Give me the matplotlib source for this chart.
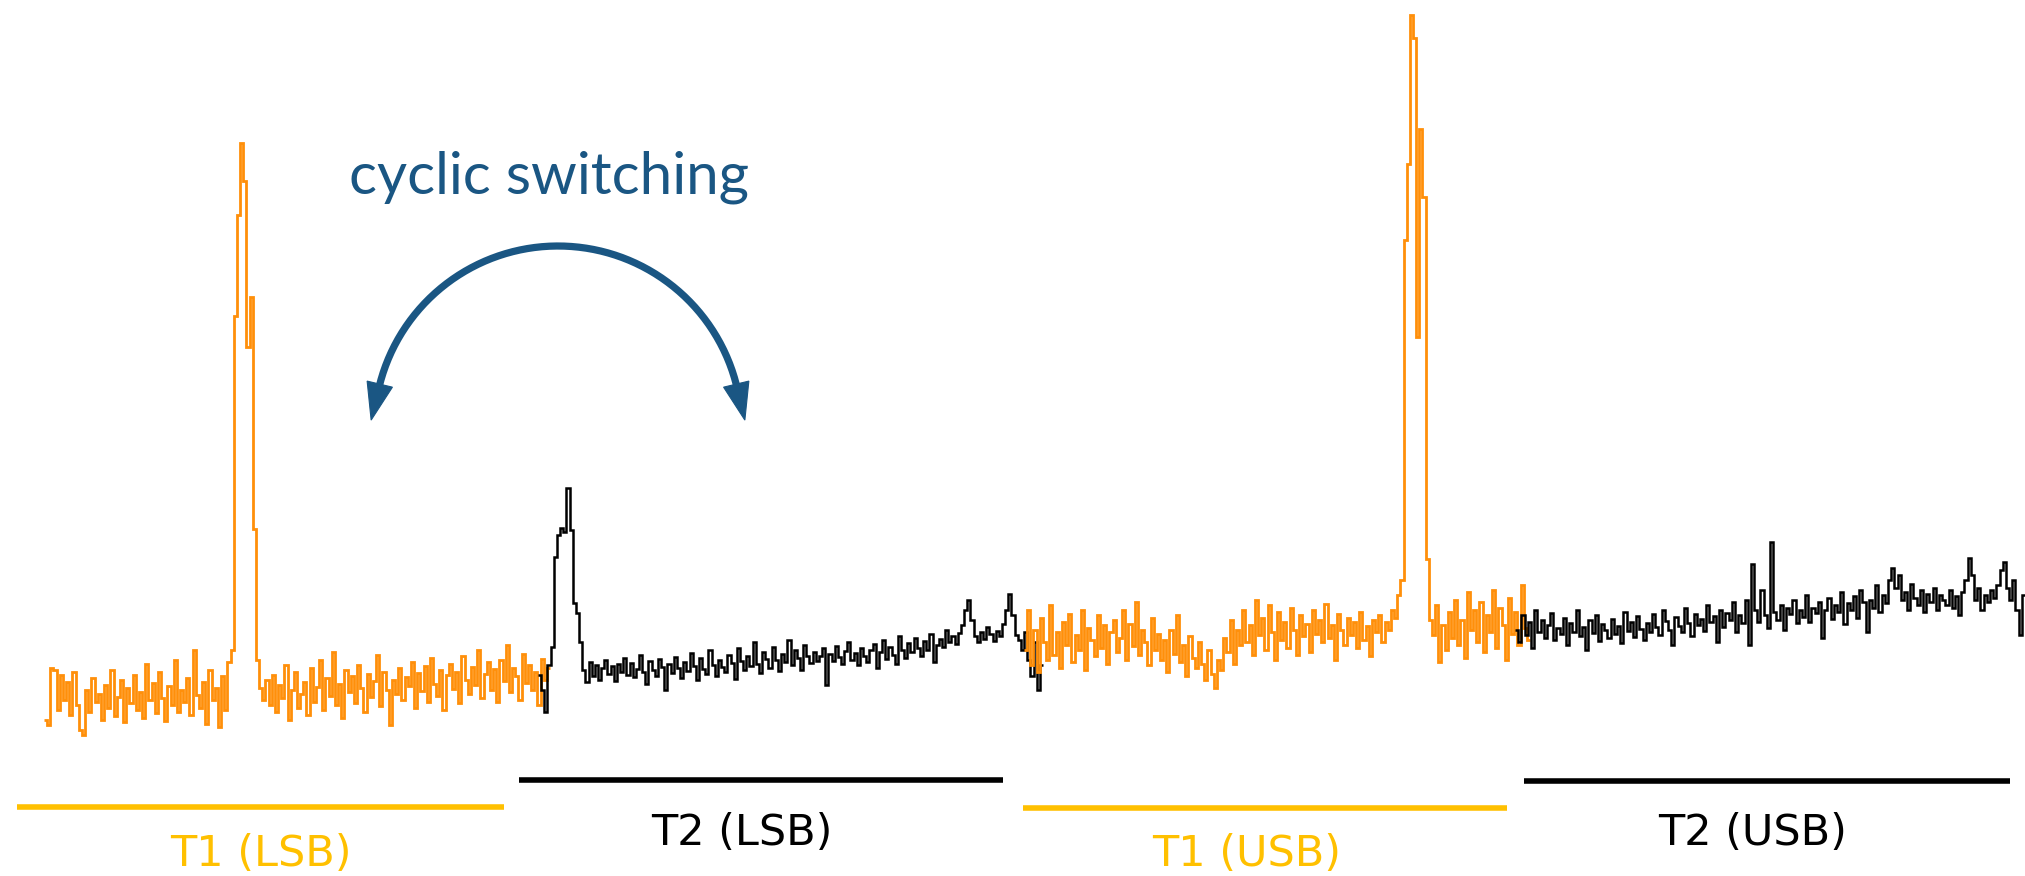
import numpy as np
import matplotlib
matplotlib.use("Agg")
import matplotlib.pyplot as plt
from matplotlib.patches import Polygon

# ---------------------------------------------------------------
# Spectra recorded in the four switching phases (relative intensity)
# ---------------------------------------------------------------
t1_lsb = [
    40, 35, 92, 90, 50, 85, 60, 78, 45, 88, 55, 30, 25, 70, 48,
    82, 58, 66, 40, 75, 52, 90, 44, 63, 80, 38, 72, 57, 85, 50,
    68, 42, 96, 60, 77, 47, 88, 62, 39, 74, 55, 100, 48, 70, 58,
    82, 45, 110, 65, 52, 78, 36, 90, 60, 72, 33, 84, 50, 98,
    110, 444, 545, 617, 579, 413, 463, 231, 100,
    72, 60, 80, 55, 85, 48, 75, 62, 95, 40, 70, 88, 52, 66, 78,
    45, 92, 58, 73, 100, 50, 82, 64, 108, 55, 76, 42, 90, 68, 84,
    57, 95, 72, 48, 86, 63, 79, 105, 54, 88, 70, 35, 80, 66, 92,
    60, 83, 74, 98, 52, 87, 69, 94, 58, 102, 76, 64, 90, 50, 85,
    96, 71, 88, 57, 104, 80, 66, 93, 75, 110, 62, 86, 98, 70, 91,
    58, 100, 79, 115, 68, 92, 84, 60, 106, 77, 95, 70, 88, 55, 101, 80, 92,
]

t2_lsb = [
    85, 70, 48, 95, 113, 203, 225, 232, 228, 272, 230, 157, 147, 118,
    90, 78, 98, 84, 95, 80, 92, 100, 86, 94, 79, 96, 88, 102, 85,
    97, 83, 91, 105, 88, 76, 99, 90, 84, 101, 93, 70, 96, 87, 103,
    92, 82, 98, 89, 107, 94, 80, 102, 91, 86, 110, 95, 84, 100, 93,
    88, 105, 97, 81, 112, 99, 90, 104, 94, 118, 96, 87, 108, 101, 92,
    113, 100, 89, 106, 98, 120, 95, 110, 102, 90, 115, 104, 97, 108, 99,
    104, 112, 75, 106, 99, 114, 103, 96, 109, 118, 100, 107, 95, 112, 104,
    98, 110, 116, 92, 108, 120, 101, 113, 105, 96, 124, 110, 102, 117, 108,
    122, 112, 104, 119, 110, 126, 98, 115, 121, 113, 130, 118, 124, 116, 127,
    135, 150, 160, 140, 124, 118, 128, 121, 133, 126, 119, 129, 124, 136, 150,
    166, 145, 125, 120, 110, 128, 100, 84, 118, 70, 95,
]

t1_usb = [
    110, 150, 95, 130, 88, 142, 118, 100, 155, 105, 128, 92, 138, 115, 146,
    98, 125, 110, 150, 90, 132, 120, 104, 145, 112, 135, 96, 128, 140, 108,
    122, 150, 100, 136, 114, 158, 105, 130, 118, 95, 142, 110, 126, 100, 120,
    88, 130, 106, 145, 98, 115, 84, 124, 102, 92, 118, 96, 80, 110, 86,
    72, 100, 90, 122, 108, 140, 96, 130, 115, 150, 118, 135, 105, 160, 125,
    142, 110, 155, 128, 100, 148, 120, 138, 112, 152, 130, 105, 145, 124, 136,
    108, 150, 126, 140, 118, 156, 122, 135, 100, 146, 130, 115, 142, 125, 138,
    112, 148, 120, 134, 104, 140, 128, 145, 118, 138, 130, 150, 142, 165,
    180, 520, 596, 745, 722, 423, 631, 563, 201, 140,
    125, 155, 98, 135, 110, 148, 122, 160, 115, 140, 102, 168, 130, 150, 118, 158,
    108, 145, 128, 170, 112, 152, 135, 100, 162, 126, 148, 115, 175, 132, 120,
]

t2_usb = [
    130, 118, 145, 125, 138, 112, 150, 128, 140, 122, 135, 147, 120, 132, 126,
    142, 115, 137, 128, 150, 124, 133, 110, 140, 127, 145, 119, 136, 130, 122,
    141, 126, 134, 117, 148, 129, 138, 123, 144, 131, 120, 137, 128, 146, 133,
    125, 150, 139, 130, 115, 143, 134, 128, 152, 137, 124, 146, 135, 141, 129,
    155, 138, 144, 118, 150, 133, 147, 140, 158, 128, 145, 137, 160, 115, 196,
    150, 138, 170, 145, 132, 218, 148, 140, 155, 130, 152, 146, 160, 137, 150,
    143, 165, 138, 152, 147, 158, 122, 150, 162, 141, 155, 148, 168, 136, 157,
    150, 164, 142, 170, 158, 128, 160, 152, 175, 148, 165, 157, 180, 192, 172,
    185, 160, 168, 150, 176, 162, 155, 170, 148, 166, 158, 172, 150, 165, 160,
    155, 170, 152, 164, 145, 168, 180, 202, 185, 160, 172, 150, 165, 158, 170,
    162, 175, 190, 198, 172, 160, 180, 150, 125, 165,
]

phase_labels = ["T1 (LSB)", "T2 (LSB)", "T1 (USB)", "T2 (USB)"]
title_text = "cyclic switching"

# ---------------------------------------------------------------
# Styling / layout
# ---------------------------------------------------------------
ORANGE = "#FF8F0A"
YELLOW = "#FFC000"
BLACK = "#000000"
BLUE = "#1A5683"

W, H = 2025, 876
fig = plt.figure(figsize=(W / 100, H / 100), dpi=100)
ax = fig.add_axes([0, 0, 1, 1])
ax.set_xlim(0, W)
ax.set_ylim(-116, 760)
ax.axis("off")

# each phase: spectrum, channel span, trace colour, bar span, bar level,
# label centre, label baseline, label colour
phases = [
    (t1_lsb, (44, 550), ORANGE, (17, 504), -47, 261, -106, YELLOW),
    (t2_lsb, (538, 1043), BLACK, (519, 1003), -20, 742, -85, BLACK),
    (t1_usb, (1024, 1530), ORANGE, (1023, 1507), -48, 1247, -106, YELLOW),
    (t2_usb, (1515, 2025), BLACK, (1524, 2010), -21, 1753, -85, BLACK),
]

for (spec, (x0, x1), col, (b0, b1), by, lx, ly, lcol), lab in zip(phases, phase_labels):
    edges = np.linspace(x0, x1, len(spec) + 1)
    ax.stairs(spec, edges, baseline=None, color=col,
              lw=2.0 if col == ORANGE else 1.8)
    bar_col = YELLOW if col == ORANGE else BLACK
    ax.plot([b0, b1], [by, by], color=bar_col, lw=4.0, solid_capstyle="butt")
    ax.text(lx, ly, lab, color=lcol, fontsize=31, family="DejaVu Sans",
            ha="center", va="baseline")

# title above the switching arrow
ax.text(549, 566, title_text, color=BLUE, fontsize=42, family="Lato",
        ha="center", va="baseline")

# double-headed arc arrow: arc body plus two triangular heads
cx, cy, r = 558, 330, 184
a_end = 13.5
theta = np.radians(np.linspace(180 - a_end, a_end, 200))
ax.plot(cx + r * np.cos(theta), cy + r * np.sin(theta), color=BLUE,
        lw=5.2, solid_capstyle="butt")

head_len, head_half = 34, 13
for ang, sgn in ((180 - a_end, -1), (a_end, 1)):
    t = np.radians(ang)
    base = np.array([cx + r * np.cos(t), cy + r * np.sin(t)])
    d = np.array([sgn * np.sin(t), -sgn * np.cos(t)])
    d = d / np.hypot(*d)
    n = np.array([-d[1], d[0]])
    start = base - 3 * d
    tip = base + head_len * d
    tri = Polygon([start + head_half * n, tip, start - head_half * n],
                  closed=True, facecolor=BLUE, edgecolor=BLUE, lw=0.8)
    ax.add_patch(tri)

fig.savefig("out.png", dpi=100)
